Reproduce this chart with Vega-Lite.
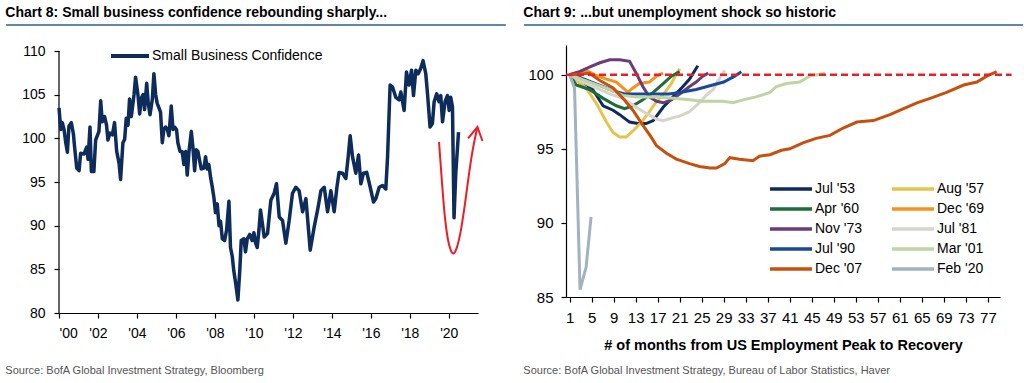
{
 "$schema": "https://vega.github.io/schema/vega-lite/v6.json",
 "background": "white",
 "padding": {"left": 5, "right": 0, "top": 6, "bottom": 0},
 "spacing": 16,
 "resolve": {"scale": {"color": "independent"}, "legend": {"color": "independent"}},
 "config": {
   "view": {"stroke": null},
   "font": "Liberation Sans, Arial, sans-serif",
   "axis": {"grid": false, "domainColor": "#000", "tickColor": "#000", "labelColor": "#000", "titleColor": "#000", "domainWidth": 1.2, "tickWidth": 1.2, "tickSize": 5, "labelFont": "Liberation Sans, Arial, sans-serif", "titleFont": "Liberation Sans, Arial, sans-serif"},
   "legend": {"labelFont": "Liberation Sans, Arial, sans-serif", "labelColor": "#000", "labelFontSize": 14, "labelLimit": 400, "symbolStrokeWidth": 4, "symbolSize": 100, "title": null},
   "title": {"font": "Liberation Sans, Arial, sans-serif", "color": "#000"}
 },
 "datasets": {
   "sbc": [
    {"year":2000.00,"v":103.5},{"year":2000.09,"v":101.0},{"year":2000.17,"v":101.8},{"year":2000.26,"v":101.0},{"year":2000.34,"v":99.6},{"year":2000.43,"v":98.4},{"year":2000.51,"v":101.4},{"year":2000.63,"v":101.8},{"year":2000.74,"v":100.5},{"year":2000.80,"v":99.0},{"year":2000.91,"v":96.6},{"year":2001.03,"v":96.3},{"year":2001.11,"v":98.3},{"year":2001.28,"v":98.2},{"year":2001.42,"v":99.0},{"year":2001.49,"v":97.6},{"year":2001.59,"v":101.3},{"year":2001.66,"v":96.2},{"year":2001.79,"v":96.2},{"year":2001.88,"v":99.8},{"year":2002.05,"v":100.8},{"year":2002.14,"v":104.3},{"year":2002.22,"v":101.9},{"year":2002.34,"v":102.5},{"year":2002.44,"v":101.5},{"year":2002.51,"v":99.8},{"year":2002.62,"v":100.6},{"year":2002.74,"v":100.4},{"year":2002.85,"v":101.8},{"year":2002.96,"v":98.5},{"year":2003.08,"v":97.2},{"year":2003.16,"v":95.3},{"year":2003.28,"v":99.5},{"year":2003.37,"v":99.9},{"year":2003.45,"v":102.3},{"year":2003.54,"v":101.5},{"year":2003.62,"v":104.5},{"year":2003.71,"v":102.5},{"year":2003.85,"v":105.0},{"year":2003.93,"v":107.0},{"year":2004.05,"v":105.0},{"year":2004.14,"v":102.8},{"year":2004.22,"v":104.6},{"year":2004.31,"v":105.0},{"year":2004.39,"v":103.3},{"year":2004.50,"v":106.3},{"year":2004.58,"v":104.0},{"year":2004.67,"v":102.7},{"year":2004.79,"v":104.5},{"year":2004.87,"v":107.4},{"year":2004.96,"v":105.0},{"year":2005.04,"v":104.0},{"year":2005.13,"v":103.5},{"year":2005.21,"v":103.0},{"year":2005.30,"v":99.5},{"year":2005.38,"v":101.0},{"year":2005.47,"v":101.3},{"year":2005.56,"v":101.0},{"year":2005.64,"v":100.3},{"year":2005.76,"v":103.7},{"year":2005.85,"v":101.0},{"year":2005.93,"v":101.3},{"year":2006.03,"v":101.0},{"year":2006.10,"v":99.5},{"year":2006.21,"v":98.5},{"year":2006.32,"v":98.5},{"year":2006.41,"v":97.0},{"year":2006.50,"v":98.5},{"year":2006.58,"v":95.8},{"year":2006.67,"v":98.5},{"year":2006.79,"v":100.8},{"year":2006.87,"v":99.0},{"year":2006.96,"v":96.3},{"year":2007.04,"v":98.7},{"year":2007.13,"v":98.5},{"year":2007.21,"v":97.5},{"year":2007.30,"v":96.5},{"year":2007.44,"v":96.6},{"year":2007.52,"v":97.9},{"year":2007.61,"v":96.5},{"year":2007.69,"v":97.0},{"year":2007.78,"v":95.5},{"year":2007.86,"v":94.5},{"year":2007.95,"v":93.2},{"year":2008.03,"v":91.5},{"year":2008.12,"v":92.5},{"year":2008.21,"v":90.0},{"year":2008.29,"v":90.5},{"year":2008.38,"v":88.5},{"year":2008.50,"v":88.3},{"year":2008.60,"v":89.5},{"year":2008.72,"v":92.8},{"year":2008.80,"v":87.5},{"year":2008.89,"v":86.5},{"year":2008.97,"v":84.8},{"year":2009.06,"v":83.5},{"year":2009.18,"v":81.5},{"year":2009.28,"v":85.0},{"year":2009.35,"v":88.3},{"year":2009.49,"v":88.5},{"year":2009.57,"v":87.0},{"year":2009.66,"v":88.5},{"year":2009.79,"v":89.0},{"year":2009.91,"v":88.3},{"year":2010.00,"v":89.2},{"year":2010.09,"v":88.0},{"year":2010.17,"v":87.5},{"year":2010.26,"v":89.5},{"year":2010.34,"v":91.8},{"year":2010.53,"v":88.7},{"year":2010.70,"v":89.1},{"year":2010.87,"v":92.9},{"year":2011.04,"v":93.7},{"year":2011.16,"v":94.8},{"year":2011.30,"v":91.0},{"year":2011.47,"v":90.6},{"year":2011.64,"v":88.0},{"year":2011.81,"v":90.6},{"year":2011.98,"v":93.7},{"year":2012.15,"v":94.4},{"year":2012.32,"v":94.0},{"year":2012.50,"v":91.6},{"year":2012.67,"v":93.1},{"year":2012.89,"v":87.2},{"year":2013.09,"v":89.8},{"year":2013.27,"v":91.8},{"year":2013.44,"v":94.0},{"year":2013.61,"v":94.4},{"year":2013.78,"v":91.6},{"year":2013.95,"v":94.0},{"year":2014.12,"v":91.6},{"year":2014.26,"v":94.4},{"year":2014.37,"v":96.1},{"year":2014.55,"v":96.0},{"year":2014.72,"v":95.4},{"year":2014.84,"v":97.9},{"year":2014.94,"v":100.3},{"year":2015.06,"v":97.9},{"year":2015.23,"v":96.0},{"year":2015.37,"v":98.1},{"year":2015.49,"v":94.8},{"year":2015.62,"v":96.0},{"year":2015.79,"v":96.1},{"year":2015.97,"v":94.4},{"year":2016.14,"v":92.7},{"year":2016.26,"v":93.1},{"year":2016.43,"v":94.4},{"year":2016.60,"v":94.6},{"year":2016.77,"v":94.2},{"year":2016.86,"v":97.9},{"year":2016.99,"v":106.1},{"year":2017.11,"v":105.9},{"year":2017.28,"v":104.7},{"year":2017.45,"v":104.4},{"year":2017.54,"v":105.3},{"year":2017.71,"v":103.2},{"year":2017.83,"v":107.6},{"year":2017.96,"v":106.1},{"year":2018.09,"v":107.8},{"year":2018.19,"v":104.9},{"year":2018.31,"v":107.8},{"year":2018.43,"v":107.4},{"year":2018.56,"v":108.0},{"year":2018.68,"v":108.9},{"year":2018.82,"v":107.4},{"year":2018.91,"v":105.1},{"year":2019.04,"v":101.3},{"year":2019.16,"v":101.7},{"year":2019.25,"v":104.2},{"year":2019.38,"v":105.1},{"year":2019.50,"v":104.2},{"year":2019.59,"v":104.9},{"year":2019.68,"v":101.9},{"year":2019.81,"v":104.2},{"year":2019.93,"v":104.9},{"year":2020.02,"v":103.2},{"year":2020.10,"v":104.7},{"year":2020.19,"v":103.6},{"year":2020.27,"v":90.9},{"year":2020.36,"v":96.0},{"year":2020.50,"v":100.7}
   ],
   "arrowCurve": [
    {"x":2019.50,"y":99.6},{"x":2019.65,"y":95.0},{"x":2019.80,"y":91.0},{"x":2019.95,"y":88.5},{"x":2020.10,"y":87.2},{"x":2020.24,"y":86.8},{"x":2020.40,"y":87.4},{"x":2020.60,"y":89.2},{"x":2020.80,"y":92.0},{"x":2021.00,"y":95.3},{"x":2021.20,"y":98.3},{"x":2021.47,"y":101.3}
   ],
   "arrowHead": [
    {"x":2020.99,"y":100.0},{"x":2021.47,"y":101.3},{"x":2021.73,"y":99.7}
   ],
   "unemp": [
    {"s":"Jul '53","m":1,"v":100},{"s":"Jul '53","m":3.4,"v":99.5},{"s":"Jul '53","m":5.2,"v":99.0},{"s":"Jul '53","m":7.1,"v":97.9},{"s":"Jul '53","m":8.9,"v":97.6},{"s":"Jul '53","m":10.1,"v":97.3},{"s":"Jul '53","m":11.9,"v":96.8},{"s":"Jul '53","m":13.4,"v":96.7},{"s":"Jul '53","m":14.9,"v":96.7},{"s":"Jul '53","m":16.2,"v":96.9},{"s":"Jul '53","m":18.0,"v":97.8},{"s":"Jul '53","m":19.8,"v":98.5},{"s":"Jul '53","m":21.6,"v":99.2},{"s":"Jul '53","m":22.8,"v":99.7},{"s":"Jul '53","m":24.3,"v":100.6},
    {"s":"Aug '57","m":1,"v":100},{"s":"Aug '57","m":4.0,"v":99.1},{"s":"Aug '57","m":5.8,"v":98.1},{"s":"Aug '57","m":7.7,"v":96.8},{"s":"Aug '57","m":8.9,"v":96.1},{"s":"Aug '57","m":10.1,"v":95.8},{"s":"Aug '57","m":11.3,"v":95.8},{"s":"Aug '57","m":12.8,"v":96.3},{"s":"Aug '57","m":14.3,"v":96.9},{"s":"Aug '57","m":15.5,"v":97.5},{"s":"Aug '57","m":16.8,"v":98.2},{"s":"Aug '57","m":18.3,"v":98.8},{"s":"Aug '57","m":19.5,"v":99.4},{"s":"Aug '57","m":20.5,"v":100.1},{"s":"Aug '57","m":21.0,"v":100.4},
    {"s":"Apr '60","m":1,"v":100},{"s":"Apr '60","m":2.2,"v":99.3},{"s":"Apr '60","m":4.6,"v":99.0},{"s":"Apr '60","m":7.1,"v":98.4},{"s":"Apr '60","m":9.5,"v":97.9},{"s":"Apr '60","m":11.0,"v":97.7},{"s":"Apr '60","m":12.5,"v":97.9},{"s":"Apr '60","m":14.3,"v":98.3},{"s":"Apr '60","m":16.2,"v":98.8},{"s":"Apr '60","m":18.0,"v":99.4},{"s":"Apr '60","m":19.5,"v":99.9},{"s":"Apr '60","m":21.0,"v":100.2},
    {"s":"Dec '69","m":1,"v":100},{"s":"Dec '69","m":2.8,"v":100.2},{"s":"Dec '69","m":4.0,"v":100.3},{"s":"Dec '69","m":5.5,"v":100.0},{"s":"Dec '69","m":7.7,"v":99.7},{"s":"Dec '69","m":9.5,"v":99.5},{"s":"Dec '69","m":10.7,"v":99.1},{"s":"Dec '69","m":11.6,"v":98.8},{"s":"Dec '69","m":12.5,"v":99.1},{"s":"Dec '69","m":13.7,"v":99.4},{"s":"Dec '69","m":15.5,"v":99.5},{"s":"Dec '69","m":16.8,"v":99.9},{"s":"Dec '69","m":18.0,"v":100.1},
    {"s":"Nov '73","m":1,"v":100},{"s":"Nov '73","m":2.8,"v":100.2},{"s":"Nov '73","m":4.6,"v":100.5},{"s":"Nov '73","m":6.5,"v":100.8},{"s":"Nov '73","m":8.3,"v":101.0},{"s":"Nov '73","m":10.1,"v":101.0},{"s":"Nov '73","m":11.9,"v":100.9},{"s":"Nov '73","m":13.1,"v":100.1},{"s":"Nov '73","m":14.3,"v":99.2},{"s":"Nov '73","m":15.5,"v":98.5},{"s":"Nov '73","m":16.8,"v":98.2},{"s":"Nov '73","m":18.0,"v":98.1},{"s":"Nov '73","m":19.5,"v":98.3},{"s":"Nov '73","m":21.0,"v":98.7},{"s":"Nov '73","m":22.8,"v":99.2},{"s":"Nov '73","m":24.0,"v":99.5},{"s":"Nov '73","m":25.2,"v":99.9},{"s":"Nov '73","m":26.2,"v":100.1},
    {"s":"Jul '81","m":1,"v":100},{"s":"Jul '81","m":3.4,"v":99.5},{"s":"Jul '81","m":5.8,"v":99.1},{"s":"Jul '81","m":8.3,"v":98.7},{"s":"Jul '81","m":10.7,"v":98.4},{"s":"Jul '81","m":13.1,"v":97.8},{"s":"Jul '81","m":14.9,"v":97.4},{"s":"Jul '81","m":16.8,"v":97.0},{"s":"Jul '81","m":18.0,"v":96.9},{"s":"Jul '81","m":19.8,"v":97.1},{"s":"Jul '81","m":21.0,"v":97.2},{"s":"Jul '81","m":22.8,"v":97.5},{"s":"Jul '81","m":24.6,"v":98.1},{"s":"Jul '81","m":25.8,"v":98.6},{"s":"Jul '81","m":27.1,"v":99.0},{"s":"Jul '81","m":28.0,"v":99.6},{"s":"Jul '81","m":29.2,"v":100.3},
    {"s":"Jul '90","m":1,"v":100},{"s":"Jul '90","m":3,"v":99.8},{"s":"Jul '90","m":5,"v":99.5},{"s":"Jul '90","m":7,"v":99.2},{"s":"Jul '90","m":9,"v":98.9},{"s":"Jul '90","m":11,"v":98.7},{"s":"Jul '90","m":13,"v":98.7},{"s":"Jul '90","m":16,"v":98.7},{"s":"Jul '90","m":19,"v":98.7},{"s":"Jul '90","m":21,"v":98.8},{"s":"Jul '90","m":24,"v":99.0},{"s":"Jul '90","m":27,"v":99.3},{"s":"Jul '90","m":29,"v":99.5},{"s":"Jul '90","m":31,"v":99.9},{"s":"Jul '90","m":32.2,"v":100.2},
    {"s":"Mar '01","m":1,"v":100},{"s":"Mar '01","m":4.6,"v":99.5},{"s":"Mar '01","m":8.3,"v":99.0},{"s":"Mar '01","m":10.7,"v":98.6},{"s":"Mar '01","m":13.1,"v":98.5},{"s":"Mar '01","m":16.8,"v":98.5},{"s":"Mar '01","m":19.8,"v":98.4},{"s":"Mar '01","m":22.8,"v":98.3},{"s":"Mar '01","m":25.2,"v":98.2},{"s":"Mar '01","m":28.9,"v":98.2},{"s":"Mar '01","m":30.7,"v":98.1},{"s":"Mar '01","m":32.5,"v":98.3},{"s":"Mar '01","m":34.9,"v":98.5},{"s":"Mar '01","m":37.4,"v":98.8},{"s":"Mar '01","m":38.6,"v":99.2},{"s":"Mar '01","m":40.4,"v":99.4},{"s":"Mar '01","m":42.8,"v":99.5},{"s":"Mar '01","m":44.6,"v":99.9},{"s":"Mar '01","m":47.4,"v":100.1},
    {"s":"Dec '07","m":1,"v":100},{"s":"Dec '07","m":4.6,"v":100.1},{"s":"Dec '07","m":6.5,"v":99.6},{"s":"Dec '07","m":8.9,"v":99.1},{"s":"Dec '07","m":10.7,"v":98.4},{"s":"Dec '07","m":12.5,"v":97.6},{"s":"Dec '07","m":14.3,"v":96.6},{"s":"Dec '07","m":15.8,"v":95.8},{"s":"Dec '07","m":16.8,"v":95.2},{"s":"Dec '07","m":18.6,"v":94.7},{"s":"Dec '07","m":20.4,"v":94.3},{"s":"Dec '07","m":22.8,"v":94.0},{"s":"Dec '07","m":24.6,"v":93.8},{"s":"Dec '07","m":26.5,"v":93.7},{"s":"Dec '07","m":27.7,"v":93.7},{"s":"Dec '07","m":29.2,"v":94.0},{"s":"Dec '07","m":30.1,"v":94.4},{"s":"Dec '07","m":31.9,"v":94.3},{"s":"Dec '07","m":34.3,"v":94.2},{"s":"Dec '07","m":35.5,"v":94.5},{"s":"Dec '07","m":37.4,"v":94.6},{"s":"Dec '07","m":39.5,"v":94.9},{"s":"Dec '07","m":41.0,"v":95.0},{"s":"Dec '07","m":43.4,"v":95.4},{"s":"Dec '07","m":45.8,"v":95.7},{"s":"Dec '07","m":48.3,"v":95.9},{"s":"Dec '07","m":50.7,"v":96.4},{"s":"Dec '07","m":53.2,"v":96.8},{"s":"Dec '07","m":56.2,"v":96.9},{"s":"Dec '07","m":59.2,"v":97.3},{"s":"Dec '07","m":61.7,"v":97.7},{"s":"Dec '07","m":64.1,"v":98.1},{"s":"Dec '07","m":66.5,"v":98.4},{"s":"Dec '07","m":69.5,"v":98.8},{"s":"Dec '07","m":72.6,"v":99.3},{"s":"Dec '07","m":75.0,"v":99.5},{"s":"Dec '07","m":76.8,"v":99.9},{"s":"Dec '07","m":78.6,"v":100.2},
    {"s":"Feb '20","m":1,"v":100},{"s":"Feb '20","m":1.9,"v":99.1},{"s":"Feb '20","m":2.9,"v":85.5},{"s":"Feb '20","m":4.0,"v":87.0},{"s":"Feb '20","m":4.9,"v":90.4}
   ]
 },
 "hconcat": [
  {
   "title": {"text": "Source: BofA Global Investment Strategy, Bloomberg", "orient": "bottom", "anchor": "start", "fontSize": 11, "fontWeight": "normal", "color": "#555555", "offset": 25},
   "vconcat": [
    {
     "title": {"text": "Chart 8: Small business confidence rebounding sharply...", "anchor": "start", "fontSize": 14, "fontWeight": "bold", "offset": 4},
     "width": 419, "height": 268,
     "layer": [
      {
       "data": {"values": [{}]},
       "mark": {"type": "rule", "color": "#2d5f95", "strokeWidth": 1.3, "clip": false},
       "encoding": {"x": {"datum": 1997.28, "type": "quantitative"}, "x2": {"datum": 2022.93}, "y": {"datum": 112.98, "type": "quantitative"}}
      },
      {
       "data": {"values": [{}]},
       "mark": {"type": "rule", "color": "#000", "strokeWidth": 1.2},
       "encoding": {"x": {"datum": 2000, "type": "quantitative"}, "y": {"datum": 80, "type": "quantitative"}, "y2": {"datum": 110}}
      },
      {
       "data": {"name": "sbc"},
       "mark": {"type": "line", "strokeWidth": 3.5, "strokeJoin": "round"},
       "encoding": {
        "x": {"field": "year", "type": "quantitative", "scale": {"domain": [2000, 2021.5], "nice": false, "zero": false},
              "axis": {"values": [2000,2002,2004,2006,2008,2010,2012,2014,2016,2018,2020], "tickCount": 30, "labelOverlap": false, "labelExpr": "\"'\" + substring(toString(datum.value), 2, 4)", "labelFontSize": 14, "labelPadding": 8, "title": null}},
        "y": {"field": "v", "type": "quantitative", "scale": {"domain": [80, 110.69], "nice": false, "zero": false},
              "axis": {"values": [80,85,90,95,100,105,110], "format": "d", "tickCount": 30, "domain": false, "labelFontSize": 14, "labelPadding": 9, "title": null}},
        "color": {"datum": "Small Business Confidence", "scale": {"range": ["#0d2c5c"]},
                  "legend": {"orient": "none", "legendX": 64, "legendY": 4, "symbolType": "M-3.8,0H3.8", "labelOffset": 15}}
       }
      },
      {
       "data": {"name": "arrowCurve"},
       "mark": {"type": "line", "color": "#ee1c25", "strokeWidth": 2, "interpolate": "monotone", "clip": false},
       "encoding": {"x": {"field": "x", "type": "quantitative"}, "y": {"field": "y", "type": "quantitative"}}
      },
      {
       "data": {"name": "arrowHead"},
       "mark": {"type": "line", "color": "#ee1c25", "strokeWidth": 2, "clip": false},
       "encoding": {"x": {"field": "x", "type": "quantitative"}, "y": {"field": "y", "type": "quantitative"}}
      }
     ]
    }
   ]
  },
  {
   "title": {"text": "Source: BofA Global Investment Strategy,  Bureau of Labor Statistics, Haver", "orient": "bottom", "anchor": "start", "fontSize": 11, "fontWeight": "normal", "color": "#555555", "offset": 13},
   "vconcat": [
    {
     "title": {"text": "Chart 9: ...but unemployment shock so historic", "anchor": "start", "fontSize": 14, "fontWeight": "bold", "offset": 4},
     "width": 434, "height": 252,
     "layer": [
      {
       "data": {"values": [{}]},
       "mark": {"type": "rule", "color": "#2d5f95", "strokeWidth": 1.3, "clip": false},
       "encoding": {"x": {"datum": -7.28, "type": "quantitative"}, "x2": {"datum": 83.38}, "y": {"datum": 103.35, "type": "quantitative"}}
      },
      {
       "data": {"name": "unemp"},
       "mark": {"type": "line", "strokeWidth": 3},
       "encoding": {
        "x": {"field": "m", "type": "quantitative", "scale": {"domain": [0.35, 79.2], "nice": false, "zero": false},
              "axis": {"values": [1,5,9,13,17,21,25,29,33,37,41,45,49,53,57,61,65,69,73,77], "format": "d", "tickCount": 40, "labelOverlap": false, "labelFontSize": 15, "labelPadding": 8, "title": "# of months from US Employment Peak to Recovery", "titleFontSize": 14.5, "titleFontWeight": "bold", "titlePadding": 13}},
        "y": {"field": "v", "type": "quantitative", "scale": {"domain": [85, 102], "nice": false, "zero": false},
              "axis": {"values": [85,90,95,100], "format": "d", "tickCount": 30, "labelFontSize": 15, "labelPadding": 8, "title": null}},
        "color": {"field": "s", "type": "nominal",
                  "scale": {"domain": ["Jul '53","Apr '60","Nov '73","Jul '90","Dec '07","Aug '57","Dec '69","Jul '81","Mar '01","Feb '20"],
                            "range": ["#0c2a5c","#1e6b3b","#6a3c79","#18499b","#c6510f","#e8c34b","#f7921e","#d8d3cb","#bdd5a2","#a1b3c1"]},
                  "legend": {"orient": "none", "legendX": 218, "legendY": 137, "columns": 2, "columnPadding": 22, "rowPadding": 6, "symbolType": "M-4.2,0H4.2", "labelOffset": 17, "symbolStrokeWidth": 3.5}}
       }
      },
      {
       "data": {"values": [{}]},
       "mark": {"type": "rule", "color": "#ee1c25", "strokeWidth": 2.5, "strokeDash": [7, 4], "clip": false},
       "encoding": {"x": {"datum": 0.35, "type": "quantitative"}, "x2": {"datum": 81.3}, "y": {"datum": 100, "type": "quantitative"}}
      }
     ]
    }
   ]
  }
 ]
}
